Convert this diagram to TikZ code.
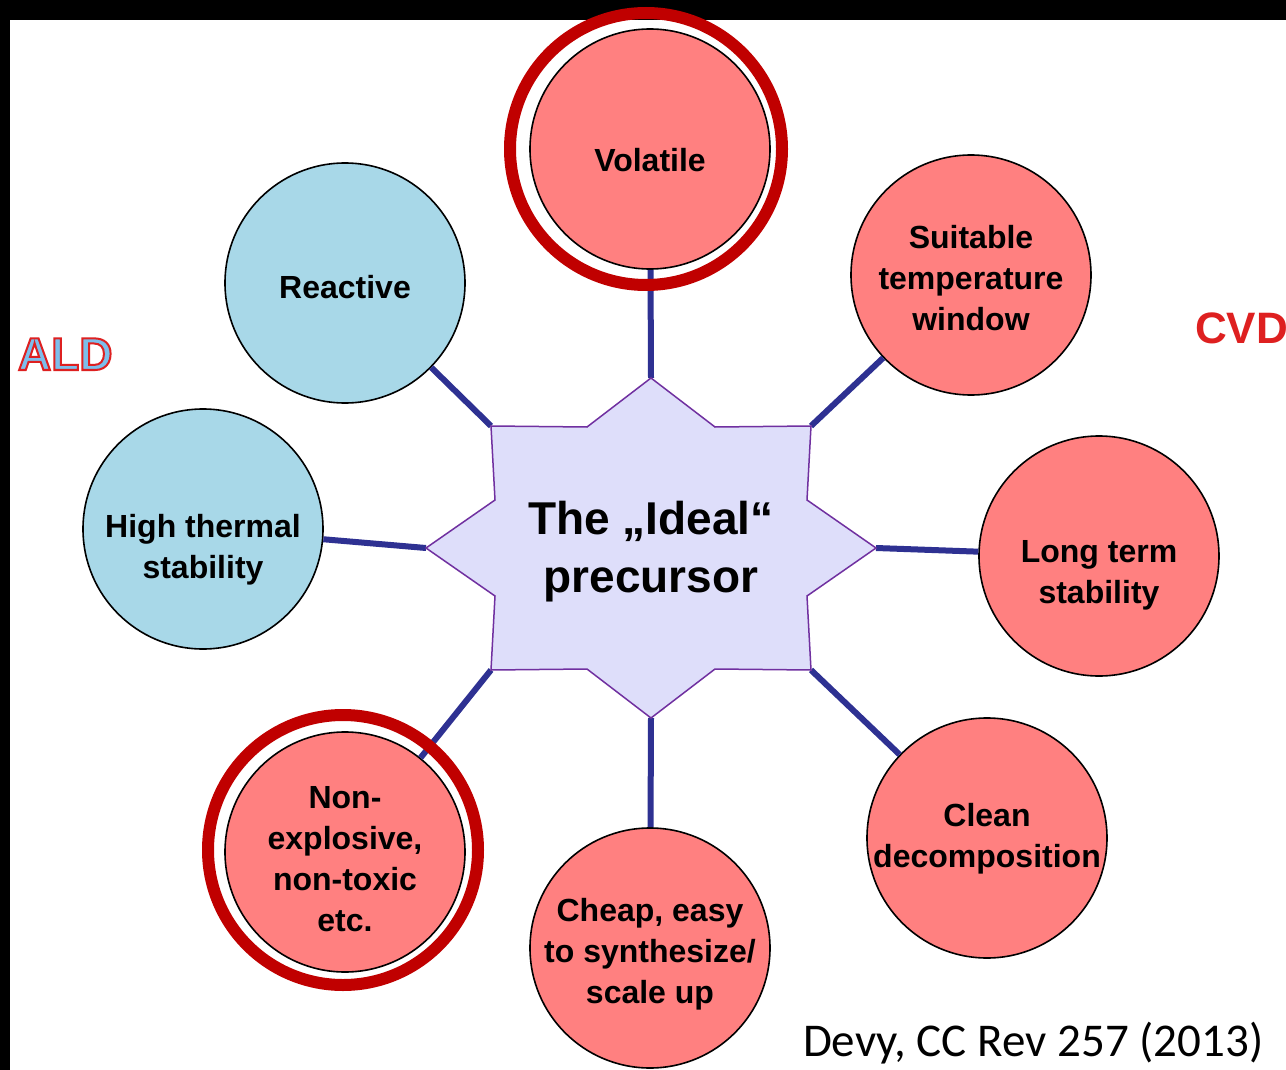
\documentclass[tikz,border=0pt]{standalone}
\usepackage{fontspec}
\setmainfont{Liberation Sans}
\newfontfamily\citefont{Carlito}
\definecolor{bubblered}{RGB}{255,128,128}
\definecolor{bubbleblue}{RGB}{168,216,232}
\definecolor{ringred}{RGB}{192,0,0}
\definecolor{spokeblue}{RGB}{46,49,146}
\definecolor{starfill}{RGB}{222,222,250}
\definecolor{staredge}{RGB}{112,48,160}
\definecolor{cvdred}{RGB}{222,32,32}
\definecolor{aldblue}{RGB}{125,190,235}
\tikzstyle{bubble} = [circle, draw=black, line width=1.6pt, minimum size=240pt, inner sep=-8pt, align=center, font=\fontsize{32}{41}\selectfont\bfseries]
\tikzstyle{aldbubble} = [bubble, fill=bubbleblue]
\tikzstyle{cvdbubble} = [bubble, fill=bubblered]
\tikzstyle{spoke} = [spokeblue, line width=6pt]
\tikzstyle{ring} = [ringred, line width=12pt]
\tikzstyle{plain} = [inner sep=0pt, outer sep=0pt]
% lowers a bubble text by #1 pt below the circle centre
\newcommand\textdrop[1]{\rule{0pt}{\dimexpr 23pt+#1pt*2\relax}}
% filled letters with a red stroke round them
\newcommand\outlined[1]{\special{pdf:literal direct q 2 Tr 2 w 0.871 0.125 0.125 RG}#1\special{pdf:literal direct Q}}

\begin{document}
\begin{tikzpicture}[x=1pt, y=-1pt]
 		\useasboundingbox (0,0) rectangle (1286,1070);
 		\fill[white] (0,0) rectangle (1286,1070);
 		\fill[black] (0,0) rectangle (1286,20);
 		\fill[black] (0,0) rectangle (10,1070);
 		% bubbles round the star
 		\node[cvdbubble] (vol) at (650,149) {\textdrop{11}Volatile};
 		\node[cvdbubble] (sui) at (971,275) {\textdrop{3}Suitable\\temperature\\window};
 		\node[cvdbubble] (lts) at (1099,556) {\textdrop{19}Long term\\stability};
 		\node[cvdbubble] (cln) at (987,838) {\textdrop{1}Clean\\decomposition};
 		\node[cvdbubble] (chp) at (650,948) {\textdrop{6}Cheap, easy\\to synthesize/\\scale up};
 		\node[cvdbubble] (nex) at (345,852) {\textdrop{7}Non-\\explosive,\\non-toxic\\etc.};
 		\node[aldbubble] (hts) at (203,529) {\textdrop{21}High thermal\\stability};
 		\node[aldbubble] (rea) at (345,283) {\textdrop{4}Reactive};
 		% star tips
 		\coordinate (tipN) at (651,378);
 		\coordinate (tipNE) at (811,426);
 		\coordinate (tipE) at (876,548);
 		\coordinate (tipSE) at (811,670);
 		\coordinate (tipS) at (651,718);
 		\coordinate (tipSW) at (491,670);
 		\coordinate (tipW) at (426,548);
 		\coordinate (tipNW) at (491,426);
 		\draw[spoke] (tipN) -- (vol);
 		\draw[spoke] (tipNE) -- (sui);
 		\draw[spoke] (tipE) -- (lts);
 		\draw[spoke] (tipSE) -- (cln);
 		\draw[spoke] (tipS) -- (chp);
 		\draw[spoke] (tipSW) -- (nex);
 		\draw[spoke] (tipW) -- (hts);
 		\draw[spoke] (tipNW) -- (rea);
 		\filldraw[fill=starfill, draw=staredge, line width=1.5pt]
 			(tipN) -- (715,427) -- (tipNE) -- (807,500) -- (tipE) -- (807,596) -- (tipSE) -- (715,669)
 			-- (tipS) -- (587,669) -- (tipSW) -- (495,596) -- (tipW) -- (495,500) -- (tipNW) -- (587,427) -- cycle;
 		\node[plain, align=center, font=\fontsize{46}{58}\selectfont\bfseries] (ideal) at (651,552) {The „Ideal“\\precursor};
 		% highlighted choices
 		\draw[ring] (646,149) circle (136pt);
 		\draw[ring] (343,850) circle (135pt);
 		% side labels
 		\node[plain, anchor=base west, text=cvdred, font=\fontsize{44}{44}\selectfont\bfseries] (cvd) at (1195,343) {CVD};
 		\node[plain, anchor=base west, font=\citefont\fontsize{47}{47}\selectfont] (cite) at (803,1056) {Devy, CC Rev 257 (2013)};
 		\node[plain, anchor=base west, text=aldblue, font=\fontsize{46}{46}\selectfont\bfseries] (ald) at (18,370) {\outlined{ALD}};
 	\end{tikzpicture}
\end{document}
